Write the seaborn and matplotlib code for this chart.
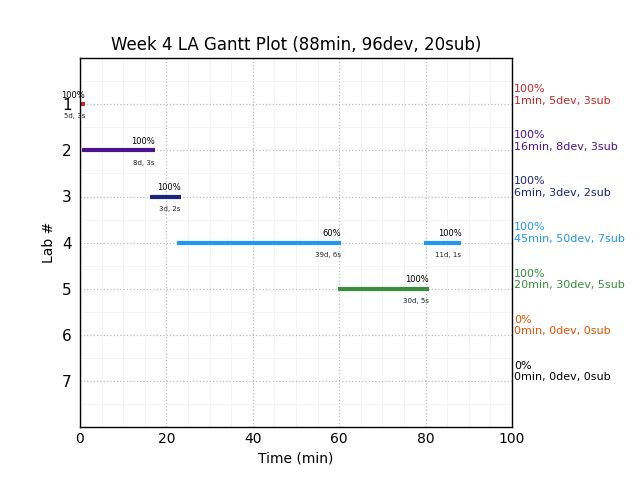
import numpy as np
import pandas as pd
import matplotlib
matplotlib.use('Agg')
import matplotlib.pyplot as plt
import seaborn as sns
from matplotlib.ticker import MultipleLocator

# labovi i boje
labs = [1, 2, 3, 4, 5, 6, 7]
lab_colors = ['#c62828', '#4a148c', '#1a237e', '#2196f3', '#388e3c', '#e65100', '#000000']

# segmenti (lab, pocetak, kraj, postotak, dani, submisije)
seg_lab = [1, 2, 3, 4, 4, 5]
seg_start = [0.0, 0.5, 16.3, 22.5, 79.7, 59.7]
seg_end = [1.2, 17.3, 23.3, 60.5, 88.3, 80.7]
seg_pct = [100, 100, 100, 60, 100, 100]
seg_days = [5, 8, 3, 39, 11, 30]
seg_subs = [3, 3, 2, 6, 1, 5]

# sazetak po labu (desna strana)
sum_pct = [100, 100, 100, 100, 100, 0, 0]
sum_min = [1, 16, 6, 45, 20, 0, 0]
sum_dev = [5, 8, 3, 50, 30, 0, 0]
sum_sub = [3, 3, 2, 7, 5, 0, 0]

rows = []
for i in range(len(seg_lab)):
    rows.append({'seg': i, 'lab': seg_lab[i], 'time': seg_start[i]})
    rows.append({'seg': i, 'lab': seg_lab[i], 'time': seg_end[i]})
df = pd.DataFrame(rows)

sns.set_style('white')
plt.rcParams['font.family'] = ['DejaVu Sans']
for k in ['text.color', 'axes.labelcolor', 'xtick.color', 'ytick.color']:
    plt.rcParams[k] = 'black'

fig = plt.figure(figsize=(6.4, 4.8), dpi=100)
ax = fig.add_axes([0.125, 0.11, 0.675, 0.769])

palette = {lab: lab_colors[lab - 1] for lab in labs}
sns.lineplot(data=df, x='time', y='lab', hue='lab', units='seg', estimator=None,
             sort=False, palette=palette, linewidth=3, legend=False, ax=ax,
             solid_capstyle='butt')

for i in range(len(seg_lab)):
    ax.text(seg_end[i], seg_lab[i] - 0.1, f'{seg_pct[i]}%', ha='right', va='bottom', fontsize=6)
    ax.text(seg_end[i], seg_lab[i] + 0.2, f'{seg_days[i]}d, {seg_subs[i]}s', ha='right', va='top',
            fontsize=5, color='#222222')

for lab in labs:
    j = lab - 1
    ax.text(100.5, lab + 0.03, f'{sum_pct[j]}%\n{sum_min[j]}min, {sum_dev[j]}dev, {sum_sub[j]}sub',
            ha='left', va='bottom', fontsize=8, color=lab_colors[j], linespacing=1.2,
            clip_on=False)

ax.set_xlim(0, 100)
ax.set_ylim(8, 0)
ax.set_yticks(labs)
ax.set_xticks([0, 20, 40, 60, 80, 100])
ax.xaxis.set_minor_locator(MultipleLocator(5))
ax.yaxis.set_minor_locator(MultipleLocator(0.5))
ax.grid(which='major', color='#bbbbbb', linestyle=':', linewidth=0.9)
ax.grid(which='minor', color='#f2f2f2', linestyle='-', linewidth=0.6)
ax.set_axisbelow(True)
ax.tick_params(axis='y', labelsize=11, length=0, pad=6)
ax.tick_params(axis='x', labelsize=10, length=0)
ax.tick_params(which='minor', length=0)
for s in ax.spines.values():
    s.set_color('black')
    s.set_linewidth(1)

ax.set_xlabel('Time (min)', fontsize=10)
ax.set_ylabel('Lab #', fontsize=10)
ax.set_title('Week 4 LA Gantt Plot (88min, 96dev, 20sub)', fontsize=12)

fig.savefig('out.png', dpi=100)
